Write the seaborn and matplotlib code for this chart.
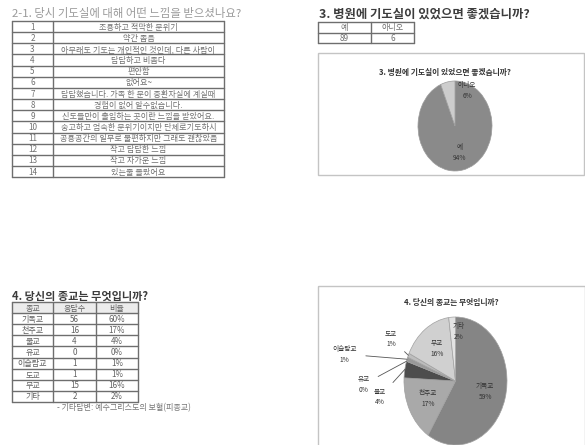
import matplotlib
matplotlib.use("Agg")
import matplotlib.pyplot as plt
import seaborn as sns
import numpy as np
from matplotlib.patches import Rectangle

sns.set_theme(style="white")
plt.rcParams['font.family'] = ['Noto Sans CJK KR', 'DejaVu Sans']

# ---------------- data ----------------
q21_title = "2-1. 당시 기도실에 대해 어떤 느낌을 받으셨나요?"
q21_nums = ["1", "2", "3", "4", "5", "6", "7", "8", "9", "10", "11", "12", "13", "14"]
q21_answers = [
    "조용하고 적막한 분위기",
    "약간 좁음",
    "아무래도 기도는 개인적인 것인데, 다른 사람이",
    "답답하고 비좁다",
    "편안함",
    "없어요~",
    "답답했습니다. 가족 한 분이 중환자실에 계실때",
    "경험이 없어 알수없습니다.",
    "신도들만이 출입하는 곳이란 느낌을 받았어요.",
    "숭고하고 엄숙한 분위기이지만 단체로기도하시",
    "공용공간의 일부로 불편하지만 그래도 괜찮았음",
    "작고 답답한 느낌",
    "작고 차가운 느낌",
    "있는줄 몰랐어요",
]

q3_title = "3. 병원에 기도실이 있었으면 좋겠습니까?"
q3_labels = ["예", "아니오"]
q3_counts = [89, 6]

q4_title = "4. 당신의 종교는 무엇입니까?"
q4_header = ["종교", "응답수", "비율"]
q4_labels = ["기독교", "천주교", "불교", "유교", "이슬람교", "도교", "무교", "기타"]
q4_counts = [56, 16, 4, 0, 1, 1, 15, 2]
q4_ratio = ["60%", "17%", "4%", "0%", "1%", "1%", "16%", "2%"]
q4_note = "- 기타답변: 예수그리스도의 보혈(피종교)"

# ---------------- figure ----------------
W, H = 585, 445
fig = plt.figure(figsize=(W / 100, H / 100), dpi=100)
fig.patch.set_facecolor("white")
ax0 = fig.add_axes([0, 0, 1, 1])
ax0.set_xlim(0, W)
ax0.set_ylim(H, 0)
ax0.axis("off")

line_c = "#6e6e6e"


def draw_table(ax, xs, y0, rh, rows, color, fs, header_fill=None):
    n = len(rows)
    y1 = y0 + rh * n
    for i in range(n + 1):
        ax.plot([xs[0], xs[-1]], [y0 + i * rh] * 2, color=line_c, lw=1.0)
    for x in xs:
        ax.plot([x, x], [y0, y1], color=line_c, lw=1.0)
    if header_fill:
        ax.add_patch(Rectangle((xs[0], y0), xs[-1] - xs[0], rh, color=header_fill, zorder=0))
    for i, row in enumerate(rows):
        for j, cell in enumerate(row):
            ax.text((xs[j] + xs[j + 1]) / 2, y0 + (i + 0.55) * rh, cell, ha="center",
                    va="center", fontsize=fs, color=color)


# ---- 2-1 ----
ax0.text(12, 14, q21_title, fontsize=8.2, color="#9a9a9a", va="center", ha="left")
draw_table(ax0, [12, 53, 224], 21, 11.15, list(zip(q21_nums, q21_answers)), "#707070", 5.85)

# ---- 3 ----
ax0.text(319, 14.5, q3_title, fontsize=8.9, fontweight="bold", color="#3c3c3c",
         va="center", ha="left")
draw_table(ax0, [318, 371, 414], 22, 10.5,
           [q3_labels, [str(c) for c in q3_counts]], "#707070", 5.8)
ax0.add_patch(Rectangle((318, 53), 266, 122, fill=False, edgecolor="#c4c4c4", lw=1))
ax0.text(445, 73, q3_title, fontsize=5.6, fontweight="bold", color="#333333",
         ha="center", va="center")

# ---- 4 ----
ax0.text(12, 296, q4_title, fontsize=8.0, fontweight="bold", color="#3c3c3c",
         va="center", ha="left")
rows4 = [q4_header] + [[l, str(c), r] for l, c, r in zip(q4_labels, q4_counts, q4_ratio)]
draw_table(ax0, [12, 53, 96, 138], 302, 11.1, rows4, "#606060", 5.8, header_fill="#ececec")
ax0.text(57, 408, q4_note, fontsize=5.8, color="#777777", va="center", ha="left")
ax0.add_patch(Rectangle((318, 286), 267, 170, fill=False, edgecolor="#c4c4c4", lw=1))
ax0.text(451, 303, q4_title, fontsize=5.6, fontweight="bold", color="#333333",
         ha="center", va="center")


def pie_axes(left, top, w, h):
    return fig.add_axes([left / W, (H - top - h) / H, w / W, h / H])


# ---- pie 3 ----
axp3 = pie_axes(418, 81, 74, 90)
w3, _ = axp3.pie(q3_counts, startangle=90, counterclock=False,
                 colors=["#8a8a8a", "#cdcdcd"],
                 wedgeprops=dict(edgecolor="#9c9c9c", linewidth=0.5))
axp3.set_aspect("auto")
axp3.set_xlim(-1, 1)
axp3.set_ylim(-1, 1)
tot3 = sum(q3_counts)
pos3 = [(0.12, -0.6), (0.33, 0.78)]
for lab, c, (x, y) in zip(q3_labels, q3_counts, pos3):
    axp3.text(x, y, f"{lab}\n{round(100 * c / tot3)}%", fontsize=4.8, ha="center",
              va="center", color="#333333", linespacing=1.5)

# ---- pie 4 ----
axp4 = pie_axes(404, 317, 103, 128)
pie_cols = ["#858585", "#a9a9a9", "#4d4d4d", "#6e6e6e", "#999999", "#bdbdbd",
            "#d0d0d0", "#e3e3e3"]
w4, _ = axp4.pie(q4_counts, startangle=90, counterclock=False, colors=pie_cols,
                 wedgeprops=dict(edgecolor="#a0a0a0", linewidth=0.5))
axp4.set_aspect("auto")
axp4.set_xlim(-1, 1)
axp4.set_ylim(-1, 1)
tot4 = sum(q4_counts)
inner = {"기독교": 0.6, "천주교": 0.6, "무교": 0.62, "기타": 0.78}
outer = {"불교": (-1.47, -0.25), "유교": (-1.78, -0.05), "이슬람교": (-2.15, 0.42),
         "도교": (-1.25, 0.66)}
for wd, lab, c in zip(w4, q4_labels, q4_counts):
    mid = np.deg2rad((wd.theta1 + wd.theta2) / 2)
    txt = f"{lab}\n{round(100 * c / tot4)}%"
    if lab in inner:
        r = inner[lab]
        dx = 0.12 if lab == "기타" else 0
        axp4.text(r * np.cos(mid) + dx, r * np.sin(mid), txt, fontsize=4.8, ha="center",
                  va="center", color="#333333", linespacing=1.5)
    else:
        x, y = outer[lab]
        axp4.annotate(txt, xy=(np.cos(mid), np.sin(mid)), xytext=(x, y),
                      fontsize=4.8, ha="center", va="center", color="#333333",
                      linespacing=1.5, annotation_clip=False,
                      arrowprops=dict(arrowstyle="-", color="#555555", lw=0.6,
                                      shrinkA=4, shrinkB=0))

fig.savefig("out.png", dpi=100, facecolor="white")
